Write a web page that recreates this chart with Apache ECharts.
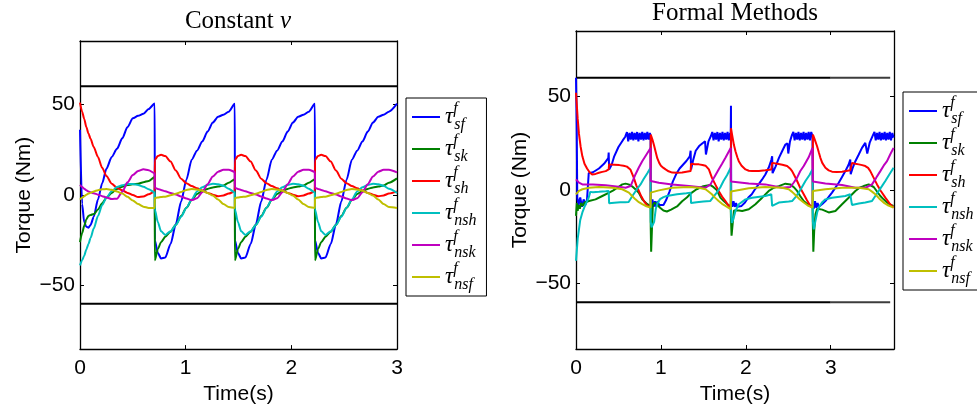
<!DOCTYPE html>
<html>
<head>
<meta charset="utf-8">
<script src="https://cdn.jsdelivr.net/npm/echarts@6.0.0/dist/echarts.min.js"></script>
<style>
html,body{margin:0;padding:0;background:#fff;}
#chart{width:977px;height:410px;}
</style>
</head>
<body>
<div id="chart"></div>
<script>
// ---------------- DATA ----------------
const seriesNames = ['sf', 'sk', 'sh', 'nsh', 'nsk', 'nsf'];
const seriesColors = ['#0000ff', '#008000', '#ff0000', '#00bfbf', '#bf00bf', '#bfbf00'];
const yTicks = [-50, 0, 50];
const xTicksLeft = [0, 1, 2, 3];
const xTicksRight = [0, 1, 2, 3];
const limitTorque = 60;
const leftLimitSpan = [0, 3];
const rightLimitSpan = [0, 3, 3.7];

// Left plot ("Constant v"): shared time samples (s)
const tLeft = [
  0, 0.02, 0.04, 0.06, 0.08, 0.1, 0.13, 0.17, 0.21, 0.25, 0.3, 0.35, 0.4, 0.45, 0.5, 0.55, 0.6, 0.65, 0.707,
  0.708, 0.737, 0.767, 0.807, 0.857, 0.907, 0.957, 1.007, 1.057, 1.107, 1.157, 1.207, 1.257, 1.307, 1.357, 1.407, 1.465,
  1.466, 1.495, 1.525, 1.565, 1.615, 1.665, 1.715, 1.765, 1.815, 1.865, 1.915, 1.965, 2.015, 2.065, 2.115, 2.165, 2.223,
  2.224, 2.253, 2.283, 2.323, 2.373, 2.423, 2.473, 2.523, 2.573, 2.623, 2.673, 2.723, 2.773, 2.823, 2.873, 2.923, 3.0
];
const csSf = [
  36, -5, -15, -17.5, -18, -16.5, -12, -2.5, 6.5, 14.5, 21, 25.5, 31.3, 37.6, 42.4, 43.7, 44.8, 47.5, 50.5,
  -25, -32, -35, -34.5, -27, -16, -3.5, 8.5, 19.5, 24.5, 29.5, 35, 40, 43.2, 44.3, 46, 50.4,
  -25, -32, -35, -34.5, -27, -16, -3.5, 8.5, 19.5, 24.5, 29.5, 35, 40, 43.2, 44.3, 46, 50.4,
  -25, -32, -35, -34.5, -27, -16, -3.5, 8.5, 19.5, 24.5, 29.5, 35, 40, 43.2, 44.3, 46, 50.4
];
const csSk = [
  -26, -21, -17, -13.5, -11.5, -11, -10.5, -8, -4.5, -1.5, 1.2, 3.4, 4.6, 5.5, 5.9, 6.2, 7.1, 7.8, 10,
  -36, -29.7, -26, -23, -20.2, -16.4, -11.5, -7, -2.8, 0.6, 2.3, 3.4, 4.2, 4.7, 5.3, 6.8, 8.7,
  -36, -29.7, -26, -23, -20.2, -16.4, -11.5, -7, -2.8, 0.6, 2.3, 3.4, 4.2, 4.7, 5.3, 6.8, 8.7,
  -36, -29.7, -26, -23, -20.2, -16.4, -11.5, -7, -2.8, 0.6, 2.3, 3.4, 4.2, 4.7, 5.3, 6.8, 9.2
];
const csSh = [
  51, 46, 42, 37.5, 34, 31, 26.5, 21, 15, 10.5, 6.3, 4, 2.6, 1.2, 0, -1.1, -0.8, 0.5, 2,
  19.5, 21.5, 22.2, 21.5, 18.5, 13.5, 9, 6.5, 5, 3.8, 2.5, 1.2, 0.2, -0.7, -0.2, 0.8, 2,
  19.5, 21.5, 22.2, 21.5, 18.5, 13.5, 9, 6.5, 5, 3.8, 2.5, 1.2, 0.2, -0.7, -0.2, 0.8, 2,
  19.5, 21.5, 22.2, 21.5, 18.5, 13.5, 9, 6.5, 5, 3.8, 2.5, 1.2, 0.2, -0.7, -0.2, 0.8, 2
];
const csNsh = [
  -38.8, -36, -33.5, -30, -27, -23.7, -18.5, -11.6, -5.5, -1.5, 2.1, 4.4, 5.4, 6.1, 6.1, 5.6, 4.6, 3.2, 1.4,
  -8, -15, -20, -22, -20, -16.5, -12, -7, -2.5, 2, 4.3, 5.6, 6.2, 6, 5.1, 3.5, 1.4,
  -8, -15, -20, -22, -20, -16.5, -12, -7, -2.5, 2, 4.3, 5.6, 6.2, 6, 5.1, 3.5, 1.4,
  -8, -15, -20, -22, -20, -16.5, -12, -7, -2.5, 2, 4.3, 5.6, 6.2, 6, 5.1, 3.5, 1.2
];
const csNsk = [
  5.6, 4.5, 3.5, 2.6, 2, 1.5, 1, 0.2, -0.6, -1.3, -2.2, -2, 1.8, 7, 11, 13.3, 14.2, 13.7, 12,
  4, 3.4, 2.8, 2.1, 1.2, 0.3, -0.8, -1.9, -2.8, -1.8, 1.5, 6, 10.3, 12.9, 13.9, 14, 12.8,
  4, 3.4, 2.8, 2.1, 1.2, 0.3, -0.8, -1.9, -2.8, -1.8, 1.5, 6, 10.3, 12.9, 13.9, 14, 12.8,
  4, 3.4, 2.8, 2.1, 1.2, 0.3, -0.8, -1.9, -2.8, -1.8, 1.5, 6, 10.3, 12.9, 13.9, 14, 12.5
];
const csNsf = [
  -2.5, -1.5, -0.6, 0.2, 0.8, 1.3, 2, 2.7, 3.2, 3.3, 2.9, 1.9, 0.8, -1, -3, -5, -6.4, -7.1, -7.1,
  -1.6, -1.4, -1.1, -0.9, -0.1, 0.7, 1.7, 2.8, 3.3, 3.1, 2.4, 1.2, -0.3, -2.5, -4.9, -6.6, -7.1,
  -1.6, -1.4, -1.1, -0.9, -0.1, 0.7, 1.7, 2.8, 3.3, 3.1, 2.4, 1.2, -0.3, -2.5, -4.9, -6.6, -7.1,
  -1.6, -1.4, -1.1, -0.9, -0.1, 0.7, 1.7, 2.8, 3.3, 3.1, 2.4, 1.2, -0.3, -2.5, -4.9, -6.6, -7.1
];

// Right plot ("Formal Methods"): [time (s), torque (Nm)]
const fmSf = [
  [0,60],[0.008,35],[0.015,-4],[0.03,-8],[0.05,-4],[0.07,-9],[0.09,-5],[0.11,-8],[0.13,-5],[0.145,-6],[0.15,9],[0.2,9.5],[0.27,11.5],[0.33,14],[0.38,17],[0.385,20],[0.39,11],[0.42,13.5],[0.45,18],[0.5,23],[0.55,26.5],[0.58,28.5],
  [0.6,31],[0.615,26],[0.63,30.5],[0.645,27],[0.66,31],[0.675,26.5],[0.69,30.5],[0.705,27],[0.72,31],[0.735,26],[0.75,30.5],[0.765,27],[0.78,31],[0.795,26.5],[0.81,30.5],[0.825,27],[0.84,31],[0.855,27],[0.87,30.5],[0.878,29],
  [0.88,-5],[0.89,-10],[0.9,-5],[0.915,-9],[0.93,-6],[0.945,-9],[0.96,-6],[0.98,-8],[1.0,-8.5],[1.03,-8],[1.06,-5.5],[1.1,-1],[1.14,4.5],[1.18,8.5],[1.22,11.5],[1.26,13.5],[1.3,15.5],[1.34,18],[1.35,21],[1.355,11],[1.38,16],[1.41,21],[1.45,23.5],[1.49,25],[1.52,26],[1.53,19],[1.56,26],[1.59,29],
  [1.605,31],[1.62,26.5],[1.635,30.5],[1.65,27],[1.665,31],[1.68,26],[1.695,30.5],[1.71,27],[1.725,31],[1.74,26.5],[1.755,30.5],[1.77,27],[1.785,31],[1.8,26.5],[1.815,30.5],[1.822,29],
  [1.825,45],[1.828,-6],[1.84,-9],[1.855,-6],[1.87,-9],[1.885,-7],[1.9,-9],[1.92,-8.5],[1.95,-8.5],[1.99,-6.7],[2.03,-4],[2.07,-2.3],[2.11,0.5],[2.15,3],[2.19,5.5],[2.23,8.3],[2.27,12],[2.3,16],[2.31,18],[2.315,9],[2.35,12.5],[2.39,17.2],[2.43,21],[2.466,24.3],[2.49,25],[2.5,19.5],[2.52,26],[2.545,29.6],
  [2.56,31],[2.575,26.5],[2.59,30.5],[2.605,27],[2.62,31],[2.635,26.5],[2.65,30.5],[2.665,27],[2.68,31],[2.695,26.5],[2.71,30.5],[2.725,27],[2.74,31],[2.755,26.5],[2.77,31],[2.785,29],
  [2.79,-6],[2.8,-10],[2.815,-6],[2.83,-9.5],[2.845,-7],[2.86,-9],[2.9,-7.5],[2.937,-5.9],[2.976,-3.7],[3.015,-1.4],[3.055,1.3],[3.094,3.9],[3.133,7],[3.172,10.1],[3.21,13.5],[3.23,16.3],[3.235,8.5],[3.26,12],[3.29,15.4],[3.33,19],[3.368,22.5],[3.407,25.2],[3.43,19.5],[3.46,25.5],[3.5,29.6],
  [3.515,31],[3.53,26.5],[3.545,30.5],[3.56,27],[3.575,31],[3.59,26.5],[3.605,30.5],[3.62,27],[3.635,31],[3.65,26.5],[3.665,30.5],[3.68,27],[3.695,31],[3.71,26.5],[3.725,30.5],[3.74,28]
];
const fmSk = [
  [0,-13.8],[0.01,-7],[0.02,-11.2],[0.03,-8],[0.045,-10],[0.06,-7],[0.08,-8.5],[0.1,-6.7],[0.153,-5.9],[0.23,-5],[0.31,-3.2],[0.39,-1.4],[0.44,-0.2],[0.486,1.2],[0.545,3],[0.584,3.4],[0.62,3],[0.66,2],[0.7,0.4],[0.74,-1.5],[0.78,-5],[0.84,-7.6],[0.878,-8.5],
  [0.88,-20],[0.885,-33],[0.895,-20],[0.905,-8],[0.92,-6.8],[0.95,-7.5],[0.99,-9.5],[1.03,-11],[1.07,-11.5],[1.12,-10.5],[1.19,-8.8],[1.25,-6],[1.305,-4],[1.36,-1.5],[1.42,0.4],[1.5,2],[1.58,2.7],[1.62,1.5],[1.658,0],[1.7,-4.1],[1.737,-5.8],[1.78,-7.5],[1.822,-8.8],
  [1.825,-15],[1.832,-24.4],[1.845,-18],[1.86,-11],[1.878,-10.3],[1.92,-11],[1.957,-11.2],[2.035,-10.3],[2.113,-7.6],[2.192,-4.1],[2.27,-0.5],[2.33,1.2],[2.388,2.1],[2.466,3.4],[2.525,3],[2.565,1.5],[2.604,-0.5],[2.64,-3.2],[2.682,-5.9],[2.72,-7.3],[2.76,-8.5],[2.785,-9],
  [2.79,-20],[2.795,-33],[2.805,-22],[2.82,-13],[2.84,-10],[2.859,-9.4],[2.9,-10.5],[2.976,-12],[3.055,-11.2],[3.133,-7.6],[3.211,-4.1],[3.29,-0.5],[3.34,1.2],[3.388,2.1],[3.447,3],[3.506,1.6],[3.545,-0.8],[3.584,-3.2],[3.623,-5],[3.663,-6.7],[3.7,-7.8],[3.74,-8.5]
];
const fmSh = [
  [0,52],[0.01,45],[0.02,38],[0.035,30],[0.055,23],[0.075,18],[0.1,14],[0.13,11.5],[0.16,9.5],[0.19,8.3],[0.23,8.6],[0.27,9.2],[0.31,9.7],[0.35,10.1],[0.385,11],[0.39,13.7],[0.45,13.5],[0.51,13.3],[0.56,13],[0.6,12.5],[0.64,11],[0.68,6.6],[0.71,2.5],[0.74,-0.5],[0.77,-3.5],[0.8,-5.9],[0.84,-8.3],[0.878,-9.4],
  [0.88,29.6],[0.9,27],[0.918,24],[0.94,20],[0.957,17],[0.98,14.5],[1.0,13],[1.03,11.8],[1.055,11],[1.09,10],[1.133,9.3],[1.19,9.2],[1.25,9.3],[1.3,9.7],[1.35,10.1],[1.355,14],[1.4,13.8],[1.447,13.7],[1.49,13.4],[1.525,13],[1.545,12.3],[1.565,11],[1.6,6.6],[1.64,3],[1.68,-0.5],[1.72,-3.5],[1.76,-5.9],[1.79,-8],[1.822,-9.4],
  [1.825,33],[1.84,29],[1.86,24],[1.878,20.7],[1.9,17.5],[1.917,15.4],[1.95,13],[1.996,11],[2.035,10.3],[2.074,10.1],[2.153,10.1],[2.23,10.5],[2.3,11],[2.31,14.5],[2.37,14],[2.43,13.5],[2.486,12.8],[2.52,11.5],[2.545,10.1],[2.575,7.5],[2.604,4.8],[2.64,1.2],[2.682,-2.3],[2.72,-5.5],[2.76,-8.5],[2.785,-9.4],
  [2.79,29.6],[2.815,26.5],[2.839,23.4],[2.86,20],[2.878,17.2],[2.9,14.5],[2.937,11.9],[2.976,10.5],[3.015,9.8],[3.07,9.6],[3.133,9.8],[3.18,10.1],[3.23,10.5],[3.25,14.5],[3.29,14],[3.33,13.7],[3.37,13.3],[3.407,12.8],[3.44,11.8],[3.466,10.1],[3.5,7],[3.545,3],[3.59,-0.5],[3.643,-4.1],[3.69,-7],[3.74,-9.4]
];
const fmNsh = [
  [0,-37.8],[0.01,-32],[0.02,-26],[0.035,-21],[0.05,-16],[0.075,-12],[0.1,-9],[0.12,-7],[0.15,-4],[0.168,-1],[0.2,-1.2],[0.27,-1],[0.35,-0.7],[0.385,-0.5],[0.39,-7.1],[0.45,-6.8],[0.52,-6.6],[0.58,-6.5],[0.62,-6.4],[0.66,-3.5],[0.717,0.4],[0.76,3],[0.795,5.7],[0.84,9],[0.878,11.9],
  [0.88,-17],[0.89,-20],[0.905,-21],[0.92,-17],[0.94,-10],[0.96,-7],[0.99,-4.9],[1.03,-3.8],[1.07,-3.2],[1.19,-2.3],[1.3,-1.7],[1.35,-1.4],[1.355,-7],[1.42,-6.5],[1.5,-6.2],[1.58,-5.9],[1.62,-3.5],[1.658,-1.4],[1.7,1.5],[1.737,4.8],[1.78,8],[1.822,11.9],
  [1.825,-12],[1.835,-17.6],[1.85,-16],[1.878,-11.2],[1.917,-7.6],[1.996,-5],[2.074,-4.1],[2.23,-3.2],[2.3,-2.3],[2.31,-8.5],[2.388,-6.7],[2.505,-6.2],[2.545,-5.9],[2.585,-3.8],[2.623,-1.4],[2.66,1.5],[2.702,4.8],[2.75,8],[2.785,11],
  [2.79,-17],[2.8,-21],[2.82,-16.5],[2.84,-12],[2.859,-9.4],[2.9,-6.5],[2.937,-5],[3.015,-4.1],[3.172,-3.2],[3.23,-2.3],[3.25,-8],[3.33,-7.2],[3.407,-6.7],[3.486,-5.9],[3.525,-3.2],[3.565,-0.5],[3.605,2.2],[3.643,4.8],[3.69,8.3],[3.74,11.9]
];
const fmNsk = [
  [0,5.7],[0.035,3.9],[0.075,3],[0.2,3],[0.35,2.5],[0.5,1.8],[0.584,1.2],[0.643,2.1],[0.7,8.3],[0.74,12],[0.78,15.4],[0.83,19],[0.878,22.5],
  [0.88,4.8],[0.976,3.9],[1.133,3],[1.33,2.1],[1.525,1.2],[1.584,3],[1.63,7],[1.68,11],[1.72,14],[1.76,17.2],[1.822,22.5],
  [1.825,4.5],[1.839,3.9],[2.035,3.5],[2.23,3],[2.427,1.2],[2.525,1.6],[2.565,4],[2.604,6.6],[2.64,10],[2.682,12.8],[2.74,17.5],[2.785,22.5],
  [2.79,4.5],[2.937,3.5],[3.133,2.7],[3.29,1.2],[3.41,1.2],[3.486,3],[3.535,6.5],[3.584,10.1],[3.623,13],[3.663,15.4],[3.7,19],[3.74,22.5]
];
const fmNsf = [
  [0,-2.3],[0.035,-0.5],[0.075,0.4],[0.153,1.2],[0.27,1.6],[0.43,1.2],[0.545,0.4],[0.623,-1.4],[0.66,-3.2],[0.7,-5],[0.74,-6.5],[0.78,-7.6],[0.83,-8.7],[0.878,-9.4],
  [0.88,-1.4],[0.976,-0.2],[1.133,1.2],[1.33,1.6],[1.447,1.2],[1.525,0.4],[1.56,-0.8],[1.6,-2.3],[1.64,-4.2],[1.68,-5.9],[1.72,-7.4],[1.76,-8.5],[1.822,-10.3],
  [1.825,-0.8],[1.839,-0.5],[2.035,0.9],[2.23,1.6],[2.427,1.2],[2.505,0.4],[2.545,-1],[2.584,-2.7],[2.63,-4.8],[2.682,-6.7],[2.73,-8.3],[2.785,-9.4],
  [2.79,-0.5],[2.937,0.4],[3.133,1.2],[3.33,1.2],[3.447,0.4],[3.49,-1],[3.525,-2.3],[3.57,-4.5],[3.623,-6.7],[3.68,-8.3],[3.74,-9.4]
];

// ---------------- CHART ----------------
const SANS = '"Liberation Sans", Arial, Helvetica, sans-serif';
const SERIF = '"Liberation Serif", "DejaVu Serif", serif';
const leftVals = [csSf, csSk, csSh, csNsh, csNsk, csNsf];
const rightVals = [fmSf, fmSk, fmSh, fmNsh, fmNsk, fmNsf];
const fmtTick = v => (v < 0 ? '\u2212' + Math.abs(v) : String(v));

function xAx(grid, max, ticks, bottom, nameGap) {
  return {
    type: 'value', gridIndex: grid, min: 0, max: max, position: bottom ? 'bottom' : 'top',
    axisLine: { show: true, onZero: false, lineStyle: { color: '#000', width: 1.3 } },
    axisTick: { show: true, inside: true, length: 4, customValues: ticks, lineStyle: { color: '#000', width: 1 } },
    axisLabel: { show: bottom, customValues: ticks, margin: 9, fontFamily: SANS, fontSize: 21, color: '#000' },
    splitLine: { show: false },
    name: bottom ? 'Time(s)' : '', nameLocation: 'middle', nameGap: nameGap,
    nameTextStyle: { fontFamily: SANS, fontSize: 21, color: '#000' }
  };
}
function yAx(grid, left) {
  return {
    type: 'value', gridIndex: grid, min: -85, max: 85, position: left ? 'left' : 'right',
    axisLine: { show: true, onZero: false, lineStyle: { color: '#000', width: 1.3 } },
    axisTick: { show: true, inside: true, length: 4, customValues: yTicks, lineStyle: { color: '#000', width: 1 } },
    axisLabel: { show: left, customValues: yTicks, margin: 5, formatter: fmtTick, fontFamily: SANS, fontSize: 21, color: '#000' },
    splitLine: { show: false },
    name: left ? 'Torque (Nm)' : '', nameLocation: 'middle', nameGap: 45, nameRotate: 90,
    nameTextStyle: { fontFamily: SANS, fontSize: 21, color: '#000' }
  };
}

const series = [];
// limit lines
[limitTorque, -limitTorque].forEach(v => {
  series.push({
    type: 'line', xAxisIndex: 0, yAxisIndex: 0, symbol: 'none', silent: true,
    lineStyle: { color: '#000', width: 2 },
    data: [[leftLimitSpan[0], v], [leftLimitSpan[1], v]]
  });
  series.push({
    type: 'line', xAxisIndex: 2, yAxisIndex: 2, symbol: 'none', silent: true,
    lineStyle: { color: '#000', width: 2 },
    data: [[rightLimitSpan[0], v], [rightLimitSpan[1], v]]
  });
  series.push({
    type: 'line', xAxisIndex: 2, yAxisIndex: 2, symbol: 'none', silent: true,
    lineStyle: { color: '#3c3c3c', width: 2 },
    data: [[rightLimitSpan[1], v], [rightLimitSpan[2], v]]
  });
});
seriesNames.forEach((n, i) => {
  series.push({
    name: n, type: 'line', xAxisIndex: 0, yAxisIndex: 0, symbol: 'none', showSymbol: false,
    smooth: 0.25, smoothMonotone: 'x',
    color: seriesColors[i], lineStyle: { color: seriesColors[i], width: 2 },
    data: tLeft.map((t, k) => [t, leftVals[i][k]])
  });
});
seriesNames.forEach((n, i) => {
  series.push({
    name: n, type: 'line', xAxisIndex: 2, yAxisIndex: 2, symbol: 'none', showSymbol: false,
    color: seriesColors[i], lineStyle: { color: seriesColors[i], width: 2 },
    data: rightVals[i]
  });
});

const legendRich = {
  t: { fontFamily: SERIF, fontStyle: 'italic', fontSize: 23, lineHeight: 32, verticalAlign: 'middle', color: '#000' },
  p: { fontFamily: SERIF, fontStyle: 'italic', fontSize: 16, lineHeight: 16, width: 1, verticalAlign: 'top', color: '#000' },
  s: { fontFamily: SERIF, fontStyle: 'italic', fontSize: 16, lineHeight: 16, verticalAlign: 'bottom', color: '#000' }
};
function legendOf(left, top) {
  return {
    orient: 'vertical', left: left, top: top, data: seriesNames, selectedMode: false,
    icon: 'rect', itemWidth: 28, itemHeight: 2, itemGap: 0,
    borderColor: '#000', borderWidth: 1, backgroundColor: '#fff', borderRadius: 0,
    padding: [3, 10, 3, 6],
    formatter: name => '{t|\u03c4}{p|f}{s|' + name + '}',
    textStyle: { rich: legendRich }
  };
}

const option = {
  animation: false,
  backgroundColor: '#fff',
  title: [
    { text: 'Constant {i|v}', left: 238, top: 9, textAlign: 'center', padding: 0,
      textStyle: { fontFamily: SERIF, fontWeight: 'normal', fontSize: 25, color: '#000',
        rich: { i: { fontFamily: SERIF, fontStyle: 'italic', fontSize: 25, color: '#000' } } } },
    { text: 'Formal Methods', left: 735, top: 1, textAlign: 'center', padding: 0,
      textStyle: { fontFamily: SERIF, fontWeight: 'normal', fontSize: 25, color: '#000' } }
  ],
  grid: [
    { left: 80, top: 41, width: 317, height: 312 },
    { left: 576, top: 31, width: 318, height: 318 }
  ],
  xAxis: [xAx(0, 3, xTicksLeft, true, 29), xAx(0, 3, xTicksLeft, false, 29), xAx(1, 3.745, xTicksRight, true, 28), xAx(1, 3.745, xTicksRight, false, 28)],
  yAxis: [yAx(0, true), yAx(0, false), yAx(1, true), yAx(1, false)],
  legend: [legendOf(406, 98), legendOf(903, 92)],
  series: series
};

const chart = echarts.init(document.getElementById('chart'), null, { renderer: 'canvas' });
chart.setOption(option);
</script>
</body>
</html>
